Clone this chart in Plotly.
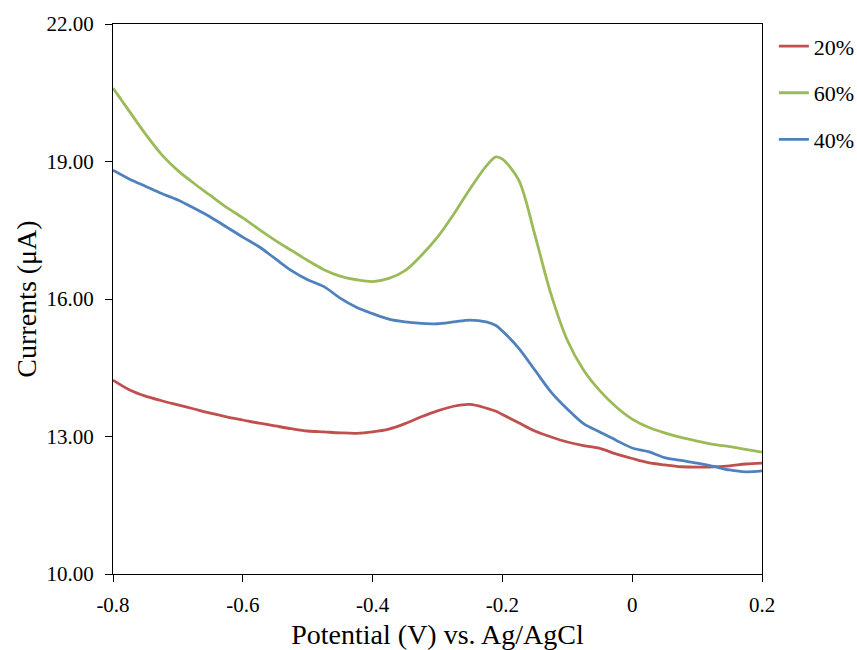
import plotly.graph_objects as go

potential = [-0.80, -0.775, -0.75, -0.725, -0.70, -0.675, -0.65, -0.625, -0.60, -0.575,
             -0.55, -0.525, -0.50, -0.475, -0.45, -0.425, -0.40, -0.375, -0.35, -0.325,
             -0.30, -0.275, -0.25, -0.225, -0.21, -0.20, -0.175, -0.15, -0.125, -0.10,
             -0.075, -0.05, -0.025, 0.0, 0.025, 0.05, 0.075, 0.10, 0.125, 0.15, 0.175, 0.20]

current_20 = [14.23, 14.02, 13.88, 13.78, 13.69, 13.60, 13.51, 13.43, 13.36, 13.29,
              13.23, 13.17, 13.12, 13.10, 13.08, 13.07, 13.10, 13.16, 13.28, 13.43,
              13.56, 13.66, 13.70, 13.62, 13.55, 13.48, 13.30, 13.12, 12.99, 12.88,
              12.80, 12.74, 12.62, 12.52, 12.43, 12.38, 12.34, 12.33, 12.34, 12.36, 12.40, 12.42]

current_60 = [20.60, 20.10, 19.60, 19.15, 18.80, 18.52, 18.26, 18.00, 17.77, 17.52,
              17.28, 17.06, 16.84, 16.64, 16.50, 16.42, 16.38, 16.45, 16.62, 16.95,
              17.35, 17.85, 18.40, 18.90, 19.10, 19.05, 18.60, 17.40, 16.10, 15.10,
              14.45, 14.00, 13.65, 13.38, 13.20, 13.08, 12.98, 12.90, 12.83, 12.78, 12.72, 12.66]

current_40 = [18.81, 18.62, 18.46, 18.30, 18.16, 17.98, 17.79, 17.57, 17.35, 17.14,
              16.88, 16.62, 16.42, 16.27, 16.02, 15.82, 15.68, 15.56, 15.50, 15.47,
              15.46, 15.50, 15.54, 15.50, 15.42, 15.30, 14.93, 14.45, 13.97, 13.60,
              13.28, 13.10, 12.92, 12.75, 12.67, 12.54, 12.48, 12.42, 12.35, 12.27, 12.23, 12.25]

series = [("20%", current_20, "#C0504D"),
          ("60%", current_60, "#9BBB59"),
          ("40%", current_40, "#4F81BD")]

x_ticks = [-0.8, -0.6, -0.4, -0.2, 0, 0.2]
x_tick_labels = ["-0.8", "-0.6", "-0.4", "-0.2", "0", "0.2"]
y_ticks = [10, 13, 16, 19, 22]

fig = go.Figure()
for name, vals, color in series:
    fig.add_trace(go.Scatter(x=potential, y=vals, name=name, mode="lines",
                             legendgroup=name,
                             line=dict(color=color, width=2.8, shape="spline", smoothing=0.9)))

font_family = "Liberation Serif"
fig.update_layout(
    width=857, height=650,
    margin=dict(l=113, r=95, t=24, b=76, autoexpand=False),
    paper_bgcolor="white", plot_bgcolor="white",
    font=dict(family=font_family, size=21, color="black"),
    showlegend=True,
    legend=dict(xref="container", yref="container", x=0.903, y=0.961,
                xanchor="left", yanchor="top",
                font=dict(family=font_family, size=22, color="black"),
                tracegroupgap=15, itemwidth=30, bgcolor="rgba(0,0,0,0)"),
    xaxis=dict(range=[-0.8, 0.2], tickmode="array", tickvals=x_ticks, ticktext=x_tick_labels,
               ticks="outside", ticklen=7, tickcolor="black", showline=True, linecolor="black",
               linewidth=1, mirror=True, showgrid=False, zeroline=False, automargin=False,
               ticklabelstandoff=5,
               title=dict(text="Potential (V) vs. Ag/AgCl", font=dict(size=28), standoff=10),
               tickfont=dict(size=21)),
    yaxis=dict(range=[10, 22], tickmode="array", tickvals=y_ticks, tickformat=".2f",
               ticks="outside", ticklen=7, tickcolor="black", showline=True, linecolor="black",
               linewidth=1, mirror=True, showgrid=False, zeroline=False, automargin=True,
               ticklabelstandoff=7,
               title=dict(text="Currents (μA)", font=dict(size=28), standoff=1),
               tickfont=dict(size=21)),
)

fig.write_html("out.html")
